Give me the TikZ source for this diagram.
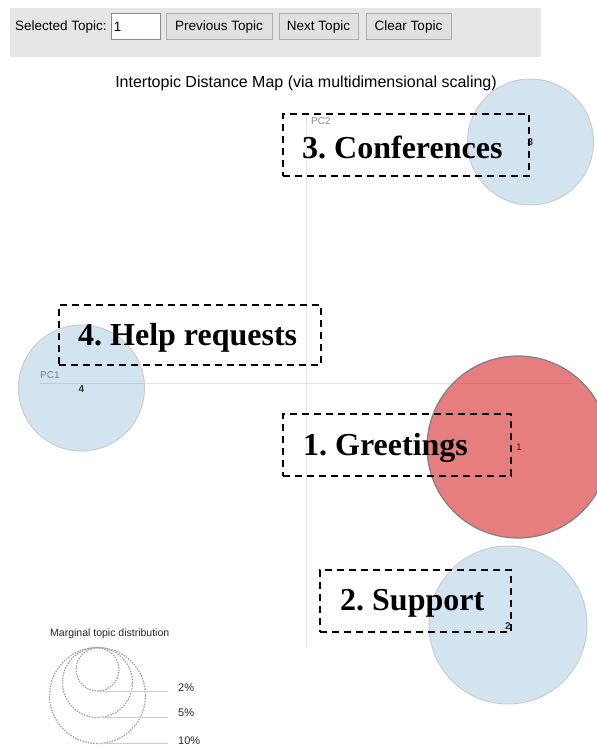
\documentclass[tikz,border=0pt]{standalone}
\usepackage{fontspec}
\setmainfont{Liberation Serif}
\setsansfont{Liberation Sans}
\frenchspacing
\definecolor{panelgray}{HTML}{E6E6E6}
\definecolor{btnfill}{HTML}{E1E1E1}
\definecolor{btnline}{HTML}{ADADAD}
\definecolor{axisgray}{HTML}{E4E4E4}
\definecolor{topicblue}{HTML}{1F77B4}
\definecolor{topicred}{HTML}{D62728}
\definecolor{labgray}{HTML}{8A8A8A}
\definecolor{legline}{HTML}{CCCCCC}
\definecolor{legdot}{HTML}{A0A0A0}
\tikzset{
  btn/.style={draw=btnline, fill=btnfill, line width=0.9pt, minimum height=26, inner sep=0pt,
    font=\sffamily\fontsize{13.5}{15}\selectfont, text depth=0pt},
  inbox/.style={draw=btnline!80!black, fill=white, line width=0.9pt, minimum height=26, minimum width=49, inner sep=0pt},
  uitext/.style={font=\sffamily\fontsize{13.5}{15}\selectfont, inner sep=0pt},
  axisline/.style={draw=axisgray, line width=1pt},
  bluetopic/.style={fill=topicblue, fill opacity=0.2, draw=black!20, line width=1pt},
  redtopic/.style={fill=topicred, fill opacity=0.6, draw=black!50, line width=1.2pt},
  topicnum/.style={font=\sffamily\bfseries\fontsize{10}{11}\selectfont, inner sep=0pt, text=black!80},
  pclabel/.style={font=\sffamily\fontsize{10}{11}\selectfont, inner sep=0pt, text=labgray},
  dashbox/.style={draw=black, line width=2.2pt, dash pattern=on 7pt off 5pt, anchor=north west, inner sep=0pt},
  topictitle/.style={font=\bfseries\fontsize{32}{35}\selectfont, inner sep=0pt, anchor=west, yshift=-2.5},
  legcircle/.style={draw=legdot, line width=1.2pt, dash pattern=on 1.5pt off 1.2pt},
  legtick/.style={draw=legline, line width=0.8pt},
  legtext/.style={font=\sffamily\fontsize{11}{12}\selectfont, inner sep=0pt, anchor=west, text=black!85},
}
\begin{document}
\begin{tikzpicture}[x=1pt, y=-1pt]
\useasboundingbox (0,0) rectangle (597,747);

% control panel
\fill[panelgray] (10,8) rectangle (541,57);
\node[uitext, anchor=west] (sel) at (15,27) {Selected Topic:};
\node[inbox] (inp) at (135.5,26) {};
\node[uitext, anchor=west] (inpval) at ([xshift=3,yshift=-1]inp.west) {1};
\node[btn, minimum width=106] (prev) at (219,26) {Previous Topic};
\node[btn, minimum width=79] (next) at (318.5,26) {Next Topic};
\node[btn, minimum width=85] (clear) at (408.5,26) {Clear Topic};

% title
\node[font=\sffamily\fontsize{16}{18}\selectfont, inner sep=0pt] (title) at (306,83)
  {Intertopic Distance Map (via multidimensional scaling)};

% axes
\coordinate (ytop) at (306,115);
\coordinate (ybot) at (306,648);
\coordinate (xl) at (40,383);
\coordinate (xr) at (572,383);
\draw[axisline] (ytop) -- (ybot);
\draw[axisline] (xl) -- (xr);
\node[pclabel, anchor=west] (pc2) at (311,121) {PC2};
\node[pclabel, anchor=west] (pc1) at (40,375) {PC1};

% topic circles
\draw[bluetopic] (530.5,142) circle (63);
\draw[bluetopic] (81.5,388) circle (63);
\draw[redtopic] (518,447) circle (91);
\draw[bluetopic] (508,625) circle (79);

\node[topicnum] (n3) at (530.5,142) {3};
\node[topicnum] (n4) at (81.5,389) {4};
\node[topicnum, text=red!45!black, font=\sffamily\fontsize{9.5}{10}\selectfont] (n1) at (519,447) {1};
\node[topicnum] (n2) at (508,626) {2};

% topic name boxes
\node[dashbox, minimum width=246, minimum height=62] (b3) at (282,113) {};
\node[topictitle] (t3) at ([xshift=20]b3.west) {3. Conferences};
\node[dashbox, minimum width=262, minimum height=60] (b4) at (58,304) {};
\node[topictitle] (t4) at ([xshift=20]b4.west) {4. Help requests};
\node[dashbox, minimum width=228, minimum height=62] (b1) at (282,413) {};
\node[topictitle] (t1) at ([xshift=21]b1.west) {1. Greetings};
\node[dashbox, minimum width=191, minimum height=62] (b2) at (319,569) {};
\node[topictitle] (t2) at ([xshift=21]b2.west) {2. Support};

% marginal distribution legend
\node[font=\sffamily\fontsize{10.5}{12}\selectfont, inner sep=0pt, anchor=west, text=black!85] (legtitle) at (50,634)
  {Marginal topic distribution};
\draw[legcircle] (97.5,669.5) circle (21.5);
\draw[legcircle] (97.5,682.5) circle (35);
\draw[legcircle] (97.5,695.5) circle (48);
\coordinate (c2) at (97.5,691);
\coordinate (c5) at (97.5,717.5);
\coordinate (c10) at (97.5,743.5);
\node[legtext] (l2) at (178,688) {2\%};
\node[legtext] (l5) at (178,713) {5\%};
\node[legtext] (l10) at (178,741) {10\%};
\draw[legtick] (c2) -- (168,691);
\draw[legtick] (c5) -- (168,717.5);
\draw[legtick] (c10) -- (168,743.5);
\end{tikzpicture}
\end{document}
